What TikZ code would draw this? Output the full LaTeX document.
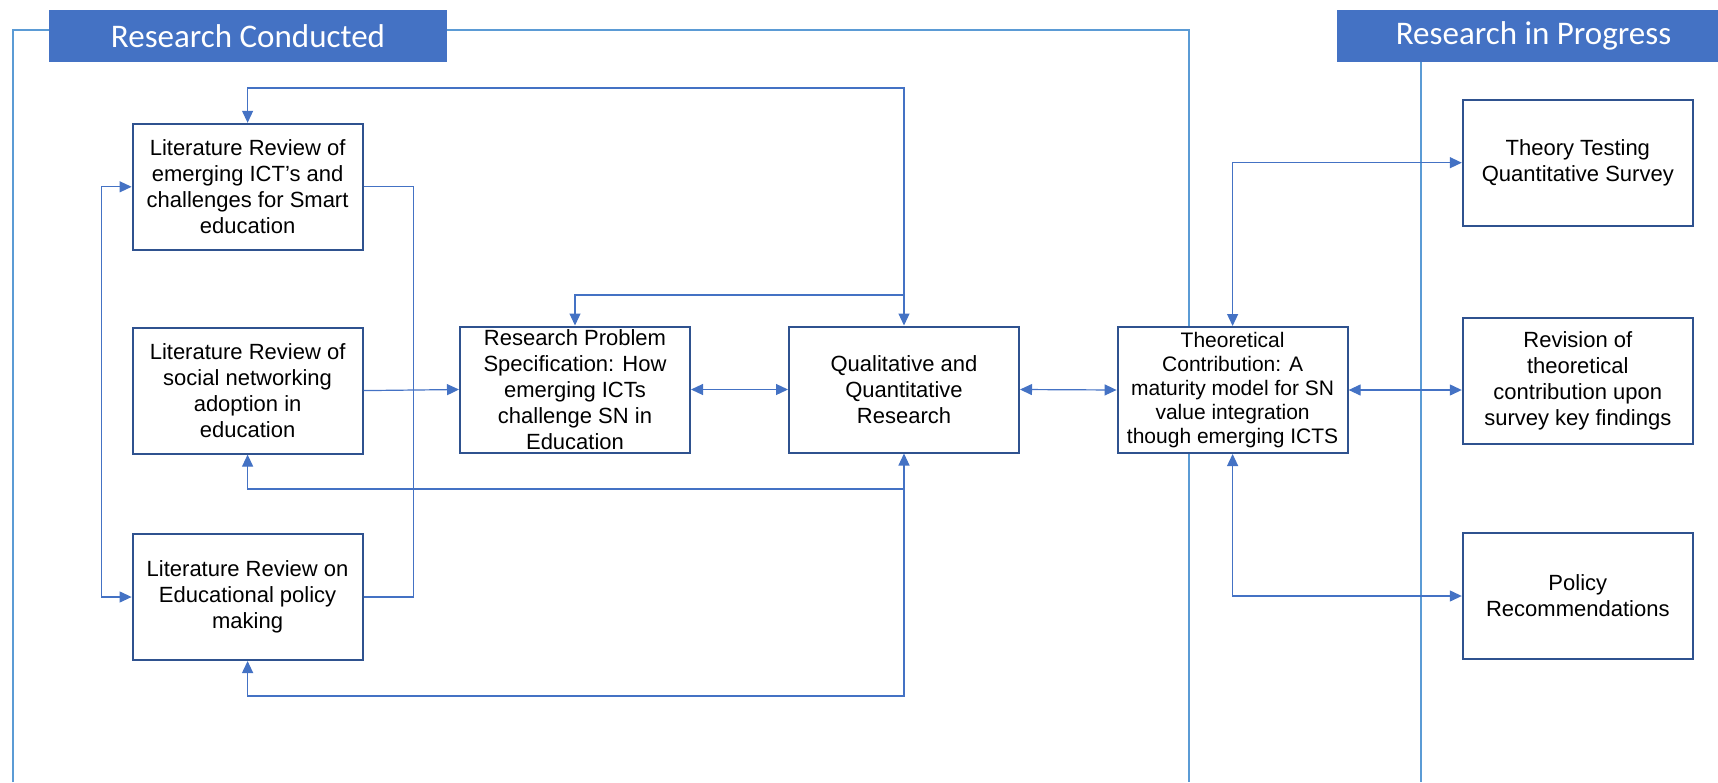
\documentclass[tikz,border=0pt]{standalone}
\usepackage{fontspec}
\setmainfont{Liberation Sans}
\newfontfamily\headfont{Carlito}
\usetikzlibrary{arrows.meta}
\definecolor{accent}{HTML}{4472C4}
\definecolor{rule}{HTML}{5B9BD5}
\definecolor{navy}{HTML}{2F528F}

\begin{document}
\begin{tikzpicture}[x=0.5pt,y=-0.5pt,
  lrbox/.style={draw=navy,line width=1pt,fill=white,minimum width=115pt,minimum height=63pt,
    inner sep=0pt,align=center,font=\fontsize{11}{13}\selectfont},
  headbar/.style={fill=accent,text=white,minimum height=26pt,inner sep=0pt,
    font=\headfont\fontsize{16.5}{18}\selectfont},
  link/.style={draw=accent,line width=0.6pt},
  tip/.style={-{Triangle[length=6pt,width=5.5pt]}},
  tips/.style={{Triangle[length=6pt,width=5.5pt]}-{Triangle[length=6pt,width=5.5pt]}},
  divider/.style={draw=rule,line width=1pt}]
\useasboundingbox (0,0) rectangle (1718,782);
\draw[divider] (13,782) -- (13,30) -- (1189,30) -- (1189,782);
\draw[divider] (1421,62) -- (1421,782);
\node[headbar,minimum width=199pt] (conducted) at (248,36) {Research Conducted};
\node[headbar,minimum width=190.5pt] (progress) at (1527.5,36) {\hspace*{6pt}Research in Progress};
\node[lrbox] (lrict) at (247.6,186.8) {Literature Review of\\emerging ICT’s and\\challenges for Smart\\education};
\node[lrbox] (lrsn) at (247.6,390.6) {Literature Review of\\social networking\\adoption in\\education};
\node[lrbox] (lrpol) at (247.6,597) {Literature Review on\\Educational policy\\making};
\node[lrbox] (problem) at (575,389.5) {Research Problem\\Specification: How\\emerging ICTs\\challenge SN in\\Education};
\node[lrbox] (qq) at (904,389.5) {Qualitative and\\Quantitative\\Research};
\node[lrbox,font=\fontsize{10.5}{12}\selectfont] (theory) at (1232.6,390) {Theoretical\\Contribution: A\\maturity model for SN\\value integration\\though emerging ICTS};
\node[lrbox] (testing) at (1577.8,162.7) {Theory Testing\\Quantitative Survey};
\node[lrbox] (revision) at (1577.8,380.7) {Revision of\\theoretical\\contribution upon\\survey key findings};
\node[lrbox] (policy) at (1577.8,596) {Policy\\Recommendations};
\coordinate (topbend) at (904,88);
\coordinate (midbend) at (904,295);
\coordinate (sntap) at (904,489);
\coordinate (lowbend) at (904,696);
\draw[link,tips] (lrict.north) |- (topbend) -- (qq.north);
\draw[link,tip] (midbend) -| (problem.north);
\draw[link,tips] (lrict.west) -- ++(-30,0) |- (lrpol.west);
\draw[link] (lrict.east) -- ++(50,0) |- (lrpol.east);
\draw[link,tip] (lrsn.east) -- (problem.west);
\draw[link,tips] (problem.east) -- (qq.west);
\draw[link,tips] (qq.east) -- (theory.west);
\draw[link,tips] (qq.south) -- (lowbend) -| (lrpol.south);
\draw[link,tip] (sntap) -| (lrsn.south);
\draw[link,tips] (theory.north) |- (testing.west);
\draw[link,tips] (theory.east) -- (theory.east -| revision.west);
\draw[link,tips] (theory.south) |- (policy.west);
\end{tikzpicture}
\end{document}
